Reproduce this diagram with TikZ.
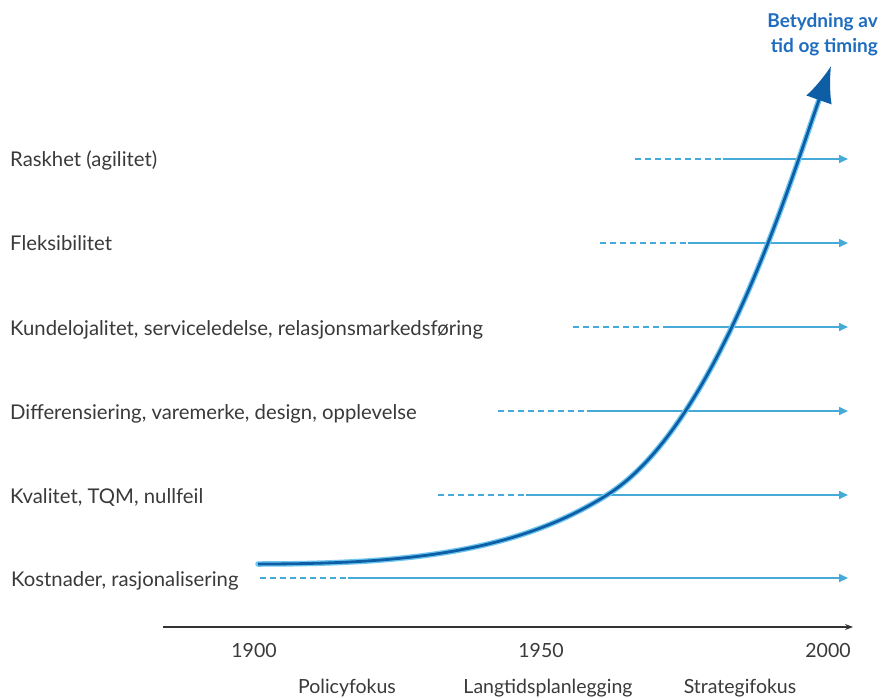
\documentclass[tikz,border=0pt]{standalone}
\usepackage{fontspec}
\setmainfont{Lato}
\usetikzlibrary{arrows.meta}
\definecolor{txt}{HTML}{3A3A3A}
\definecolor{lineblue}{HTML}{45AAD8}
\definecolor{curveblue}{HTML}{0E5EA6}
\definecolor{glowblue}{HTML}{6CC6F0}
\definecolor{titleblue}{HTML}{1F6DBF}
\begin{document}
\begin{tikzpicture}[x=1pt,y=-1pt,
 lab/.style={anchor=base west, inner sep=0pt, text=txt, font=\fontsize{20.3}{24}\selectfont},
 yr/.style={anchor=base, inner sep=0pt, text=txt, font=\fontsize{19.5}{24}\selectfont},
 solidarr/.style={draw=lineblue, line width=1.6pt, -{Triangle[length=9pt,width=8pt]}},
 dasharr/.style={draw=lineblue, line width=1.6pt, dash pattern=on 6pt off 4pt},
 axisline/.style={draw=black!80, line width=1.1pt, -{Stealth[length=8pt,width=6pt]}},
 glowline/.style={draw=glowblue, line width=5.5pt, line cap=round, shorten >=34pt},
 mainline/.style={draw=curveblue, line width=2.8pt, -{Latex[length=36pt,width=27pt]}}
]
\useasboundingbox (0,0) rectangle (884,698);
\fill[white] (0,0) rectangle (884,698);

% rows
\node[lab] (l6) at (10,167) {Raskhet (agilitet)};
\node[lab] (l5) at (10,251) {Fleksibilitet};
\node[lab] (l4) at (10,335) {Kundelojalitet, serviceledelse, relasjonsmarkedsføring};
\node[lab] (l3) at (10,419) {Differensiering, varemerke, design, opplevelse};
\node[lab] (l2) at (10,503) {Kvalitet, TQM, nullfeil};
\node[lab] (l1) at (11,586) {Kostnader, rasjonalisering};

\coordinate (d6) at (635,159); \coordinate (m6) at (723,159); \coordinate (e6) at (848,159);
\coordinate (d5) at (600,243); \coordinate (m5) at (688,243); \coordinate (e5) at (848,243);
\coordinate (d4) at (573,327); \coordinate (m4) at (663,327); \coordinate (e4) at (848,327);
\coordinate (d3) at (498,411); \coordinate (m3) at (587,411); \coordinate (e3) at (848,411);
\coordinate (d2) at (438,495); \coordinate (m2) at (526,495); \coordinate (e2) at (848,495);
\coordinate (d1) at (260,578); \coordinate (m1) at (348,578); \coordinate (e1) at (848,578);

\foreach \i in {1,...,6}{
  \draw[dasharr] (d\i) -- (m\i);
  \draw[solidarr] (m\i) -- (e\i);
}

% curve
\coordinate (c0) at (258,564);
\coordinate (c1) at (607,495);
\coordinate (tip) at (831,66);
\draw[glowline] (c0) .. controls (408,564) and (517,552) .. (c1)
  .. controls (717,426) and (791,179) .. (tip);
\draw[mainline] (c0) .. controls (408,564) and (517,552) .. (c1)
  .. controls (717,426) and (791,179) .. (tip);

\node[anchor=north east, align=right, inner sep=0pt, text=titleblue, font=\bfseries\fontsize{19}{25}\selectfont] (title) at (878,13) {Betydning av\\tid og timing};

% axis
\coordinate (ax0) at (163,627);
\coordinate (ax1) at (853,627);
\draw[axisline] (ax0) -- (ax1);

\node[yr] (y1900) at (254,657) {1900};
\node[yr] (y1950) at (541,657) {1950};
\node[yr] (y2000) at (828,657) {2000};

\node[yr] (p1) at (347,693) {Policyfokus};
\node[yr] (p2) at (548,693) {Langtidsplanlegging};
\node[yr] (p3) at (740,693) {Strategifokus};
\end{tikzpicture}
\end{document}
